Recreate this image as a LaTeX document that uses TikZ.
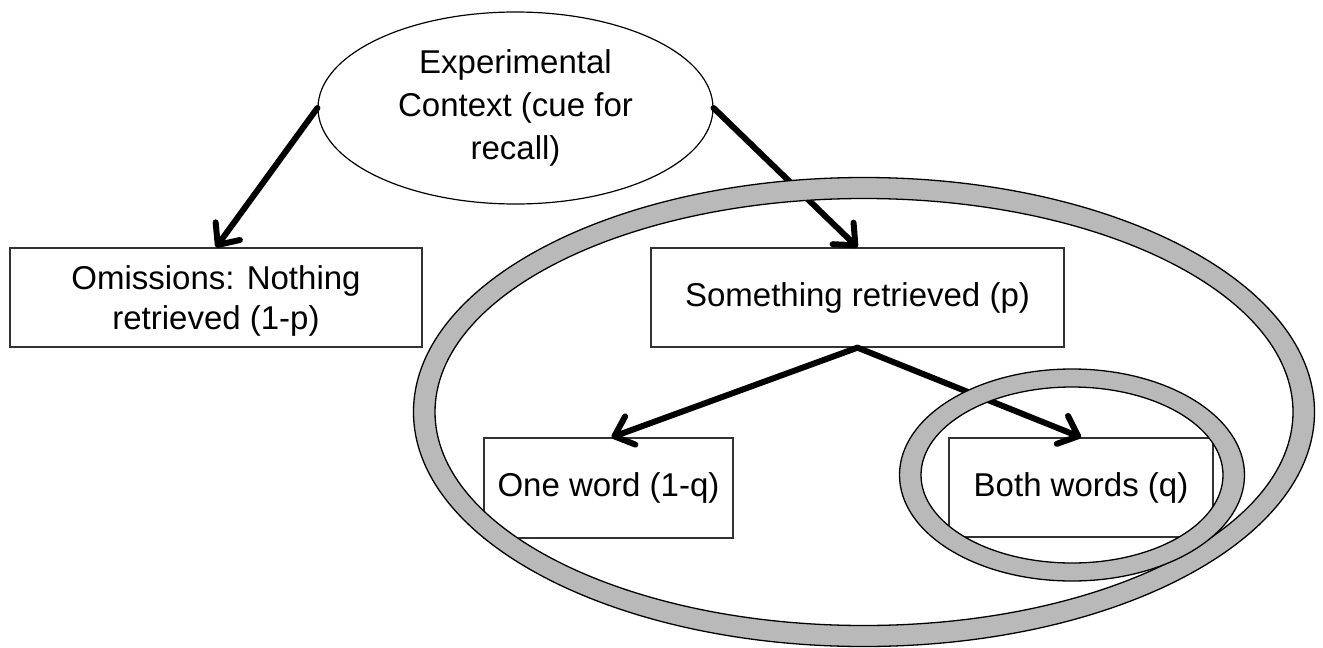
\documentclass[tikz,border=0pt]{standalone}
\usepackage{fontspec}
\setmainfont{Liberation Sans}
\usetikzlibrary{arrows.meta,shapes.geometric}
\definecolor{ringgray}{RGB}{185,185,185}
\definecolor{boxline}{RGB}{50,50,50}
\begin{document}
\begin{tikzpicture}[x=1pt,y=-1pt,
  box/.style={draw=boxline, line width=1.3pt, rectangle, inner sep=0pt, align=center,
              font=\fontsize{33}{40}\selectfont},
  ctxshape/.style={ellipse, draw=black, line width=1.2pt, inner sep=0pt, align=center,
              font=\fontsize{33}{43}\selectfont},
  flow/.style={line width=6pt, line cap=round, line join=round,
               -{Straight Barb[length=17pt,width=30pt,line cap=round,line join=round]}},
  ringband/.style={fill=ringgray, even odd rule},
  ringline/.style={draw=black, line width=1.3pt}]
\useasboundingbox (0,0) rectangle (1323,648);

\node[ctxshape, minimum width=395pt, minimum height=192pt] (ctx) at (515.5,108)
  {Experimental\\Context (cue for\\recall)};

\node[box, minimum width=412pt, minimum height=99pt, text depth=-4pt] (omit) at (216,297.5)
  {Omissions: Nothing\\retrieved (1-p)};
\node[box, minimum width=413pt, minimum height=99pt] (some) at (857.5,297.5)
  {Something retrieved (p)};
\node[box, minimum width=249pt, minimum height=100pt] (one) at (608.5,488)
  {One word (1-q)};
\node[box, minimum width=264pt, minimum height=99pt] (both) at (1081,487.5)
  {Both words (q)};

\draw[flow] (ctx.west) -- (omit.north);
\draw[flow] (ctx.east) -- (some.north);
\draw[flow] (some.south) -- ([xshift=3pt]one.north);
\draw[flow] (some.south) -- (both.north);

% big ring
\path[ringband] (864,412) ellipse [x radius=450.5, y radius=234.5]
                (864,412) ellipse [x radius=429, y radius=213.5];
\draw[ringline] (864,412) ellipse [x radius=450.5, y radius=234.5];
\draw[ringline] (864,412) ellipse [x radius=429, y radius=213.5];

% small ring
\path[ringband] (1072,475) ellipse [x radius=172.5, y radius=106]
                (1072,475) ellipse [x radius=151, y radius=88];
\draw[ringline] (1072,475) ellipse [x radius=172.5, y radius=106];
\draw[ringline] (1072,475) ellipse [x radius=151, y radius=88];
\end{tikzpicture}
\end{document}
